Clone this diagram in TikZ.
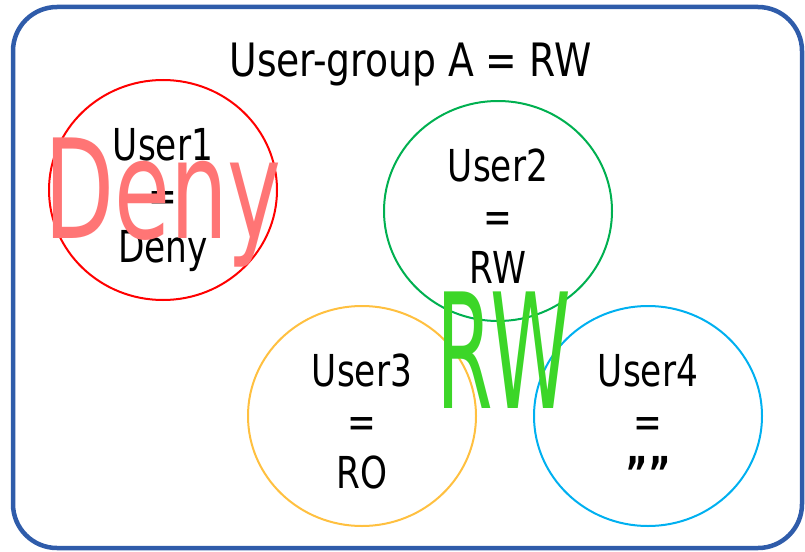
\documentclass[tikz,border=0pt]{standalone}
\usepackage{fontspec}
\usepackage{tikz}
\usetikzlibrary{shapes.geometric, positioning}

\newfontfamily\narrowfont[FakeStretch=0.78]{DejaVu Sans}
\newfontfamily\titlefont[FakeStretch=0.82]{DejaVu Sans}
\newfontfamily\denyfont[FakeStretch=0.66]{DejaVu Sans}
\newfontfamily\rwfont[FakeStretch=0.51]{DejaVu Sans}

\definecolor{frameblue}{RGB}{47,92,170}
\definecolor{denyred}{RGB}{255,117,117}
\definecolor{rwgreen}{RGB}{60,214,40}
\definecolor{usrgreen}{RGB}{0,176,80}
\definecolor{usryellow}{RGB}{255,192,64}
\definecolor{usrblue}{RGB}{0,176,240}

\begin{document}
\begin{tikzpicture}[x=1pt, y=-1pt,
  every node/.style={inner sep=0pt, outer sep=0pt},
  usr/.style={ellipse, draw, line width=2pt, minimum width=228, minimum height=220},
  usrtxt/.style={align=center, text depth=0pt, font=\narrowfont\fontsize{44}{51}\selectfont}]
\useasboundingbox (0,0) rectangle (805,551);

% Outer frame
\draw[frameblue, line width=4.5pt, rounded corners=44pt] (13,7) rectangle (802,548);

% Group title
\node[anchor=base, font=\titlefont\fontsize{46}{52}\selectfont] (title) at (410.5,76) {User-group A = RW};

% Users
\node[usr, draw=red] (u1) at (163,190) {};
\node[usr, draw=usrgreen] (u2) at (498,211) {};
\node[usr, draw=usryellow] (u3) at (362,416) {};
\node[usr, draw=usrblue] (u4) at (648,416) {};

\node[usrtxt, yshift=-5pt] (u1t) at (u1) {User1\\=\\Deny};
\node[usrtxt, yshift=-5pt] (u2t) at (u2) {User2\\=\\RW};
\node[usrtxt, yshift=-5pt] (u3t) at (u3) {User3\\=\\RO};
\node[usrtxt, yshift=-5pt] (u4t) at (u4) {User4\\=\\\textbf{””}};

% Big labels on top
\node[anchor=base, text=denyred, font=\denyfont\fontsize{138}{140}\selectfont] (deny) at (163,238) {Deny};
\node[anchor=base, text=rwgreen, font=\rwfont\fontsize{160}{160}\selectfont] (rw) at (504,408) {RW};
\end{tikzpicture}
\end{document}
